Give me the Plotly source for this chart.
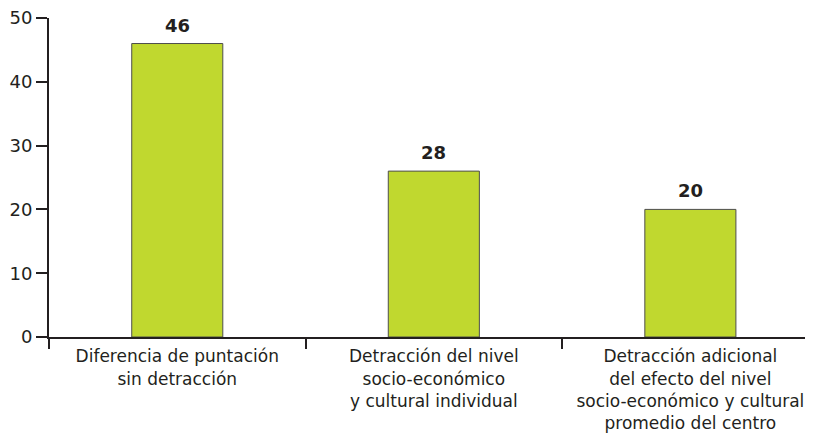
import plotly.graph_objects as go

categories = [
    "Diferencia de puntación<br>sin detracción",
    "Detracción del nivel<br>socio-económico<br>y cultural individual",
    "Detracción adicional<br>del efecto del nivel<br>socio-económico y cultural<br>promedio del centro",
]
values = [46, 26, 20]
value_labels = ["46", "28", "20"]
y_ticks = [0, 10, 20, 30, 40, 50]

ink = "#231f20"
font_name = "DejaVu Sans"
x_pos = list(range(len(categories)))

fig = go.Figure()

fig.add_trace(go.Bar(
    x=x_pos,
    y=values,
    marker=dict(color="#c0d82f", line=dict(color="#4d4d4d", width=1)),
    width=0.355,
))

# value labels sit a little higher than plotly's own outside text
for xi, yi, lab in zip(x_pos, values, value_labels):
    fig.add_annotation(
        x=xi, y=yi, text=lab, showarrow=False,
        yanchor="bottom", yshift=6,
        font=dict(family=font_name, size=18, color=ink, weight="bold"),
    )

# the page body has an 8px margin, so the figure is 8px smaller and margins shifted
fig.update_layout(
    width=805,
    height=427,
    margin=dict(l=41, r=0, t=10, b=98),
    plot_bgcolor="white",
    paper_bgcolor="white",
    showlegend=False,
    font=dict(family=font_name, size=17, color=ink),
    xaxis=dict(
        range=[-0.5, 2.478],
        tickmode="array",
        tickvals=x_pos,
        ticktext=categories,
        ticks="",
        ticklabelstandoff=3,
        ticklabeloverflow="allow",
        automargin=False,
        showline=True,
        linecolor=ink,
        linewidth=2,
        showgrid=False,
        zeroline=False,
        tickfont=dict(family=font_name, size=17, color=ink),
        minor=dict(tickmode="array", tickvals=[-0.5, 0.5, 1.5],
                   ticks="outside", ticklen=10, tickwidth=2, tickcolor=ink),
    ),
    yaxis=dict(
        range=[0, 50],
        tickmode="array",
        tickvals=y_ticks,
        ticks="outside",
        ticklen=11,
        tickwidth=2,
        tickcolor=ink,
        ticklabeloverflow="allow",
        automargin=False,
        showline=True,
        linecolor=ink,
        linewidth=2,
        showgrid=False,
        zeroline=False,
        tickfont=dict(family=font_name, size=18, color=ink),
    ),
)

fig.write_html("out.html")
